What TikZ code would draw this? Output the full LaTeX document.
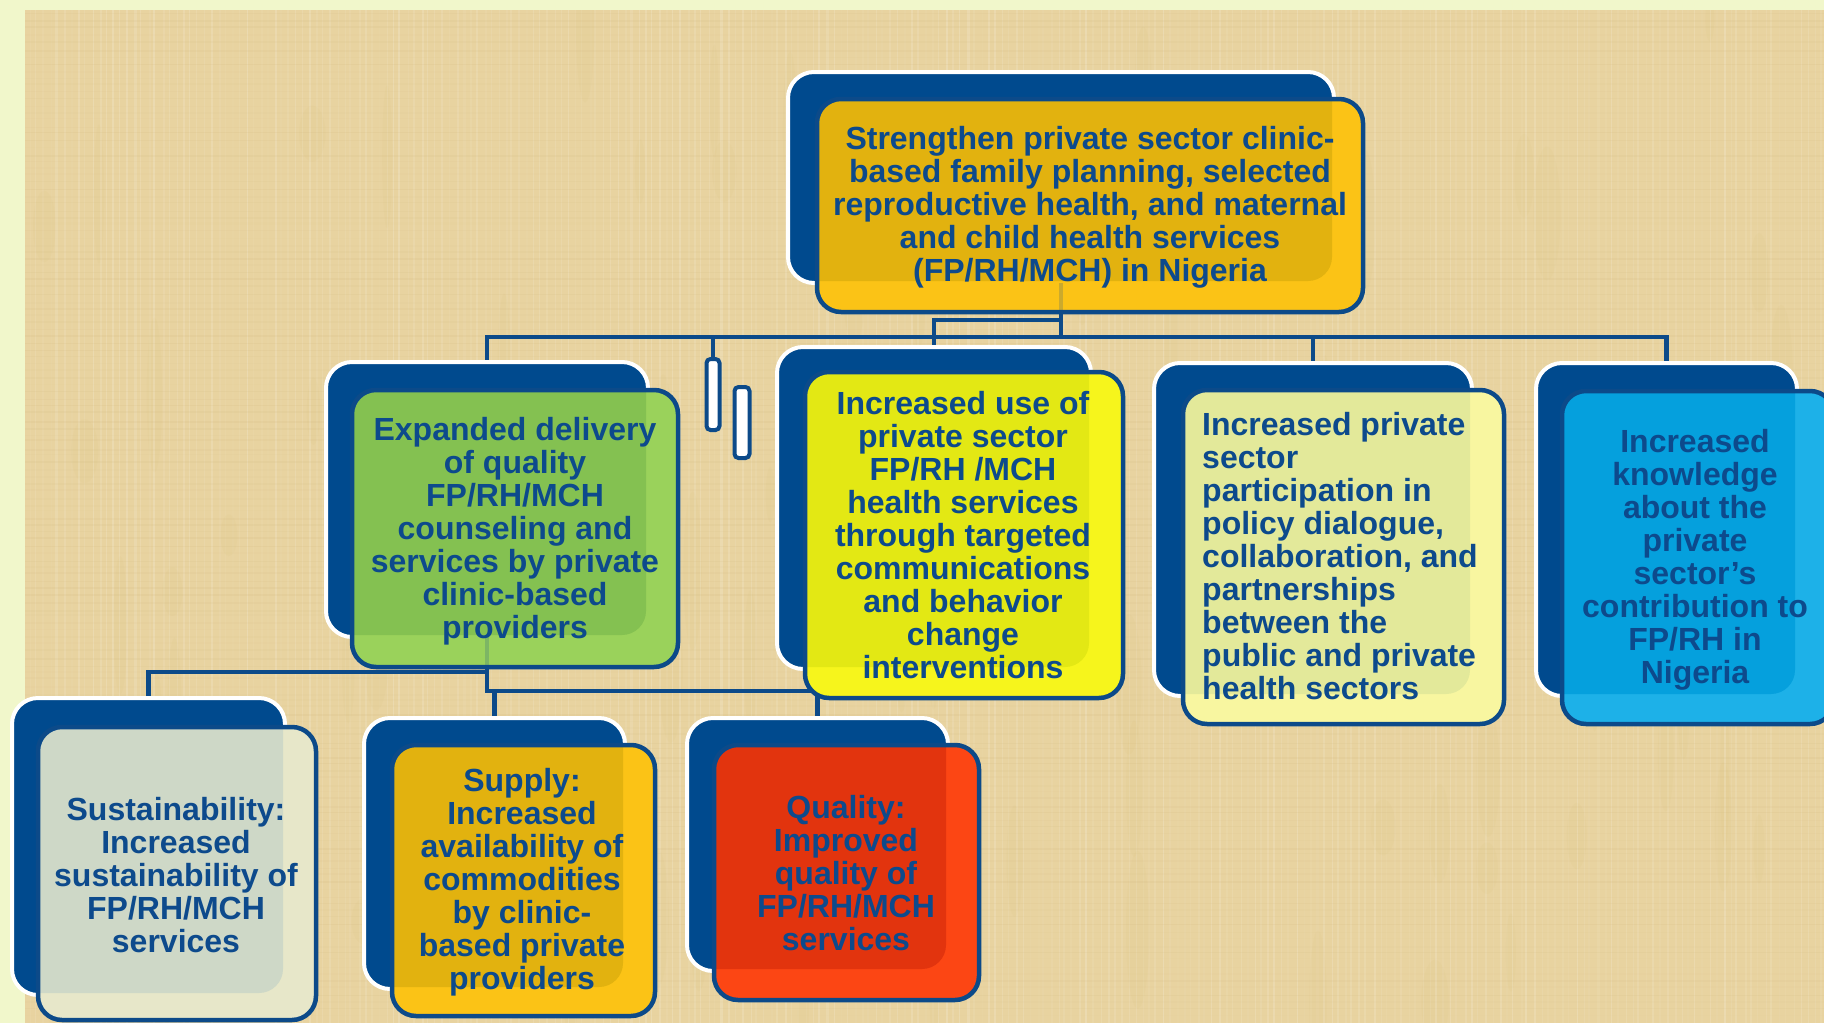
\documentclass[tikz,border=0pt]{standalone}
\usepackage{fontspec}
\setmainfont{Liberation Sans}
\usetikzlibrary{fit}
\definecolor{bgborder}{HTML}{F1F7CB}
\definecolor{bgtan}{HTML}{E8D3A0}
\definecolor{tandark}{HTML}{C9AE72}
\definecolor{tanpatch}{HTML}{D8BD68}
\definecolor{cardblue}{HTML}{004A8E}
\definecolor{linkblue}{HTML}{0C4A89}
\definecolor{txtblue}{HTML}{0D4A8C}
\definecolor{rootL}{HTML}{FBC316}\definecolor{rootD}{HTML}{E2B20F}
\definecolor{greenL}{HTML}{9AD25B}\definecolor{greenD}{HTML}{84C151}
\definecolor{yelL}{HTML}{F6F51C}\definecolor{yelD}{HTML}{E3E814}
\definecolor{polL}{HTML}{F8F6A0}\definecolor{polD}{HTML}{E3E99A}
\definecolor{cyanL}{HTML}{1DB1E8}\definecolor{cyanD}{HTML}{05A0DD}
\definecolor{susL}{HTML}{E7E7C9}\definecolor{susD}{HTML}{CED8C7}
\definecolor{redL}{HTML}{FC4614}\definecolor{redD}{HTML}{E2340E}
\pgfdeclarelayer{bgl}\pgfdeclarelayer{links}
\pgfsetlayers{bgl,links,main}
\tikzset{
  backbox/.style={draw=white, line width=4pt, fill=cardblue, rounded corners=26pt, inner sep=0pt, outer sep=0pt},
  frontfill/.style={draw=none, inner sep=0pt, outer sep=0pt, rounded corners=24pt},
  frontline/.style={draw=linkblue, line width=4.5pt, rounded corners=24pt},
  conn/.style={draw=linkblue, line width=4.5pt},
  txt/.style={text=txtblue, font=\fontsize{32pt}{33pt}\selectfont\bfseries, align=center, inner sep=0pt},
  barbox/.style={draw=linkblue, fill=white, line width=4pt, rounded corners=4pt, inner sep=0pt},
}
\newcommand\mkcard[7]{%
  \node[backbox, fit={(#2) (#3)}] (#1B) {};
  \node[frontfill, fill=#6, fit={(#4) (#5)}] (#1F) {};
  \begin{scope}
    \clip[rounded corners=24pt] (#1F.north west) rectangle (#1F.south east);
    \fill[#7, rounded corners=24pt] ([shift={(2pt,-2pt)}]#1B.north west) rectangle ([shift={(-2pt,2pt)}]#1B.south east);
  \end{scope}
  \draw[frontline] (#1F.north west) rectangle (#1F.south east);
}
\begin{document}
\begin{tikzpicture}[x=1pt,y=-1pt]
\useasboundingbox (0,0) rectangle (1824,1023);
\begin{pgfonlayer}{bgl}
  \fill[bgborder] (0,0) rectangle (1824,1023);
  \fill[bgtan] (25,10) rectangle (1824,1023);
  \begin{scope}
    \clip (25,10) rectangle (1824,1023);
    \pgfmathsetseed{12}
    \foreach \k in {1,...,90}{\pgfmathsetmacro\px{25+1800*rnd}\pgfmathsetmacro\py{10+1010*rnd}\pgfmathsetmacro\rx{4+10*rnd}\pgfmathsetmacro\ry{20+60*rnd}
      \fill[tanpatch,opacity=0.07] (\px,\py) ellipse [x radius=\rx pt, y radius=\ry pt];}
    \foreach \i in {0,...,259}{\pgfmathsetmacro\op{0.03+0.14*rnd}\pgfmathsetmacro\xx{28+\i*7+3*rnd}\pgfmathsetmacro\lw{0.8+1.5*rnd}
      \draw[white,opacity=\op,line width=\lw pt] (\xx,10) -- (\xx,1023);}
    \foreach \j in {0,...,145}{\pgfmathsetmacro\op{0.02+0.10*rnd}\pgfmathsetmacro\yy{13+\j*7+3*rnd}\pgfmathsetmacro\lw{0.8+1.5*rnd}
      \draw[tandark,opacity=\op,line width=\lw pt] (25,\yy) -- (1824,\yy);}
  \end{scope}
\end{pgfonlayer}

% cards
\mkcard{root}{788,72}{1334,283}{817,99}{1363,312}{rootL}{rootD}
\mkcard{green}{326,362}{648,637}{352,390}{678,667}{greenL}{greenD}
\mkcard{use}{777,347}{1091,669}{805,372}{1123,698}{yelL}{yelD}
\mkcard{pol}{1154,363}{1472,696}{1183,390}{1504,724}{polL}{polD}
\mkcard{know}{1536,363}{1797,696}{1562,391}{1834,724}{cyanL}{cyanD}
\mkcard{sus}{12,698}{285,995}{38,727}{316,1020}{susL}{susD}
\mkcard{sup}{364,718}{625,989}{392,745}{655,1016}{rootL}{rootD}
\mkcard{qual}{687,718}{948,971}{714,745}{979,1000}{redL}{redD}

% small bars
\node[barbox, minimum width=13pt, minimum height=71pt] (bar1) at (713,394.5) {};
\node[barbox, minimum width=15pt, minimum height=71pt] (bar2) at (742,422.5) {};

% faint connector visible through translucent boxes
\draw[linkblue, opacity=0.2, line width=4pt] (rootB.south) -- (rootB.south |- rootF.south);
\draw[linkblue, opacity=0.2, line width=4pt] (greenB.south) -- (greenB.south |- greenF.south);

% texts
\node[txt] (rootT) at (1090,207) {Strengthen private sector clinic-\\based family planning, selected\\reproductive health, and maternal\\and child health services\\(FP/RH/MCH) in Nigeria};
\node[txt] (greenT) at (515,531) {Expanded delivery\\of quality\\FP/RH/MCH\\counseling and\\services by private\\clinic-based\\providers};
\node[txt] (useT) at (963,535) {Increased use of\\private sector\\FP/RH /MCH\\health services\\through targeted\\communications\\and behavior\\change\\interventions};
\node[txt, align=left, anchor=west] (polT) at (1202,556) {Increased private\\sector\\participation in\\policy dialogue,\\collaboration, and\\partnerships\\between the\\public and private\\health sectors};
\node[txt] (knowT) at (1695,560) {Increased\\knowledge\\about the\\private\\sector’s\\contribution to\\FP/RH in\\Nigeria};
\node[txt] (susT) at (176,875) {Sustainability:\\Increased\\sustainability of\\FP/RH/MCH\\services};
\node[txt] (supT) at (522,882) {Supply:\\Increased\\availability of\\commodities\\by clinic-\\based private\\providers};
\node[txt] (qualT) at (846,873) {Quality:\\Improved\\quality of\\FP/RH/MCH\\services};

% connectors
\begin{pgfonlayer}{links}
  \coordinate (bus) at (0,337);
  \coordinate (elb) at (0,320);
  \coordinate (bus2) at (0,672);
  \coordinate (bus3) at (0,691);
  \draw[conn] (rootB.south) -- (rootB.south |- bus);
  \draw[conn] (rootB.south |- elb) -- (useB.north |- elb) -- (useB.north);
  \draw[conn] (greenB.north) -- (greenB.north |- bus) -- (knowB.north |- bus) -- (knowB.north);
  \draw[conn] (polB.north) -- (polB.north |- bus);
  \draw[conn] (bar1.north) -- (bar1.north |- bus);
  \draw[conn] (susB.north) -- (susB.north |- bus2) -- (greenB.south |- bus2);
  \draw[conn] (greenB.south) -- (greenB.south |- bus3) -- (qualB.north |- bus3) -- (qualB.north);
  \draw[conn] (supB.north) -- (supB.north |- bus3);
\end{pgfonlayer}
\end{tikzpicture}
\end{document}
